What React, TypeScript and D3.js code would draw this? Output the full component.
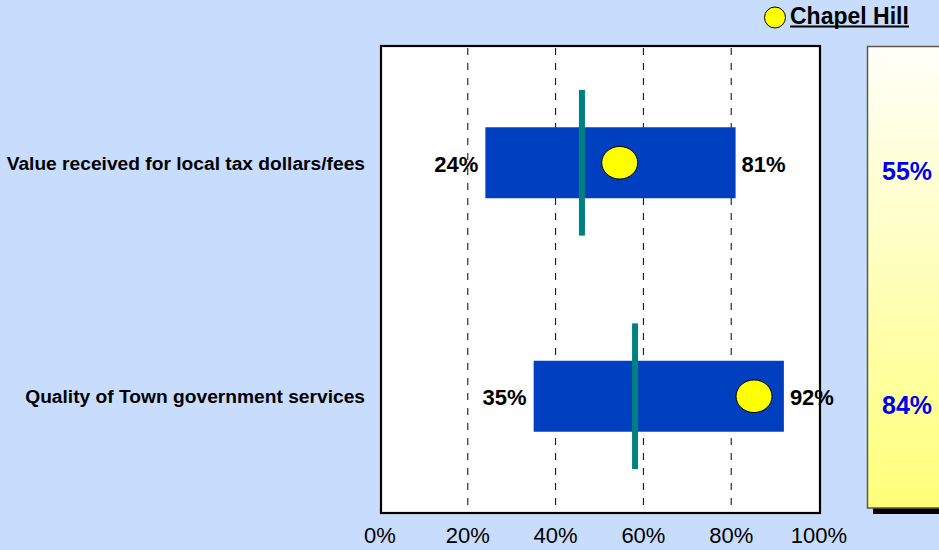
import React, { useEffect, useRef } from "react";
import * as d3 from "d3";

const categories = ["Value received for local tax dollars/fees", "Quality of Town government services"];
const lowValues = [24, 35];
const highValues = [81, 92];
const benchmarkValues = [46, 58.1];
const markerValues = [54.6, 85.2];
const panelLabels = ["55%", "84%"];
const tickValues = [0, 20, 40, 60, 80, 100];
const legendLabel = "Chapel Hill";

const W = 939;
const H = 550;
const FONT = "'Liberation Sans', Arial, sans-serif";

export default function App() {
  const ref = useRef<SVGSVGElement | null>(null);

  useEffect(() => {
    document.body.style.margin = "0";
    const svg = d3.select(ref.current);
    svg.selectAll("*").remove();

    const defs = svg.append("defs");
    const grad = defs.append("linearGradient").attr("id", "panelGrad").attr("x1", 0).attr("y1", 0).attr("x2", 0).attr("y2", 1);
    grad.append("stop").attr("offset", "0%").attr("stop-color", "#FFFFFA");
    grad.append("stop").attr("offset", "100%").attr("stop-color", "#FFFF7A");

    svg.append("rect").attr("x", 0).attr("y", 0).attr("width", W).attr("height", H).attr("fill", "#C8DCFE");

    const x = d3.scaleLinear().domain([0, 100]).range([380, 819]);
    const plotTop = 46;
    const plotBottom = 513;
    const y = d3.scaleBand<string>().domain(categories).range([plotTop, plotBottom]);
    const bw = y.bandwidth();

    svg.append("rect").attr("x", x(0)).attr("y", plotTop).attr("width", x(100) - x(0)).attr("height", plotBottom - plotTop).attr("fill", "#FFFFFF");

    svg.selectAll("line.grid").data(tickValues.filter((t) => t > 0 && t < 100)).enter().append("line")
      .attr("x1", (d) => x(d)).attr("x2", (d) => x(d))
      .attr("y1", plotTop + 2).attr("y2", plotBottom)
      .attr("stroke", "#000").attr("stroke-width", 1).attr("stroke-dasharray", "7,8");

    const rows = categories.map((c, i) => ({ c, lo: lowValues[i], hi: highValues[i], b: benchmarkValues[i], m: markerValues[i], p: panelLabels[i] }));

    svg.selectAll("rect.bar").data(rows).enter().append("rect")
      .attr("x", (d) => x(d.lo)).attr("width", (d) => x(d.hi) - x(d.lo))
      .attr("y", (d) => (y(d.c) as number) + bw / 2 - bw * 0.152).attr("height", bw * 0.304)
      .attr("fill", "#0040C0");

    svg.selectAll("rect.bench").data(rows).enter().append("rect")
      .attr("x", (d) => x(d.b) - 3).attr("width", 6)
      .attr("y", (d) => (y(d.c) as number) + bw / 2 - bw * 0.312).attr("height", bw * 0.624)
      .attr("fill", "#008080");

    svg.selectAll("ellipse.m").data(rows).enter().append("ellipse")
      .attr("cx", (d) => x(d.m)).attr("cy", (d) => (y(d.c) as number) + bw / 2)
      .attr("rx", 18).attr("ry", 16.3)
      .attr("fill", "#FFFF00").attr("stroke", "#000").attr("stroke-width", 1);

    svg.selectAll("text.lo").data(rows).enter().append("text")
      .attr("x", (d) => x(d.lo) - 7).attr("y", (d) => (y(d.c) as number) + bw / 2 + 9)
      .attr("text-anchor", "end").attr("font-family", FONT).attr("font-weight", "bold").attr("font-size", 22)
      .attr("fill", "#000").text((d) => `${d.lo}%`);
    svg.selectAll("text.hi").data(rows).enter().append("text")
      .attr("x", (d) => x(d.hi) + 6).attr("y", (d) => (y(d.c) as number) + bw / 2 + 9)
      .attr("text-anchor", "start").attr("font-family", FONT).attr("font-weight", "bold").attr("font-size", 22)
      .attr("fill", "#000").text((d) => `${d.hi}%`);

    svg.append("rect").attr("x", x(0) + 1).attr("y", plotTop).attr("width", x(100) - x(0)).attr("height", plotBottom - plotTop)
      .attr("fill", "none").attr("stroke", "#000").attr("stroke-width", 2.2);

    svg.selectAll("text.cat").data(rows).enter().append("text")
      .attr("x", 365).attr("y", (d) => (y(d.c) as number) + bw / 2 + 7)
      .attr("text-anchor", "end").attr("font-family", FONT).attr("font-weight", "bold").attr("font-size", 19.2)
      .attr("fill", "#000").text((d) => d.c);

    svg.selectAll("text.tick").data(tickValues).enter().append("text")
      .attr("x", (d) => x(d)).attr("y", 543)
      .attr("text-anchor", "middle").attr("font-family", FONT).attr("font-size", 22)
      .attr("fill", "#000").text((d) => `${d}%`);

    svg.append("rect").attr("x", 873).attr("y", 508).attr("width", 80).attr("height", 6).attr("fill", "#000");
    svg.append("rect").attr("x", 867.5).attr("y", 46.5).attr("width", 100).attr("height", 461.5)
      .attr("fill", "url(#panelGrad)").attr("stroke", "#5a5a48").attr("stroke-width", 1.5);
    svg.selectAll("text.panel").data(rows).enter().append("text")
      .attr("x", 882).attr("y", (d) => (y(d.c) as number) + bw / 2 + 17.5)
      .attr("font-family", FONT).attr("font-weight", "bold").attr("font-size", 25)
      .attr("fill", "#0000F0").text((d) => d.p);

    svg.append("circle").attr("cx", 775).attr("cy", 17.5).attr("r", 10.5).attr("fill", "#FFFF00").attr("stroke", "#000").attr("stroke-width", 1);
    svg.append("text").attr("x", 790).attr("y", 24).attr("font-family", FONT).attr("font-weight", "bold").attr("font-size", 23)
      .attr("fill", "#000").text(legendLabel);
    svg.append("rect").attr("x", 790).attr("y", 25.5).attr("width", 119).attr("height", 2).attr("fill", "#000");
  }, []);

  return (
    <div style={{ position: "absolute", left: 0, top: 0 }}>
      <svg ref={ref} width={W} height={H} style={{ display: "block" }} />
    </div>
  );
}
